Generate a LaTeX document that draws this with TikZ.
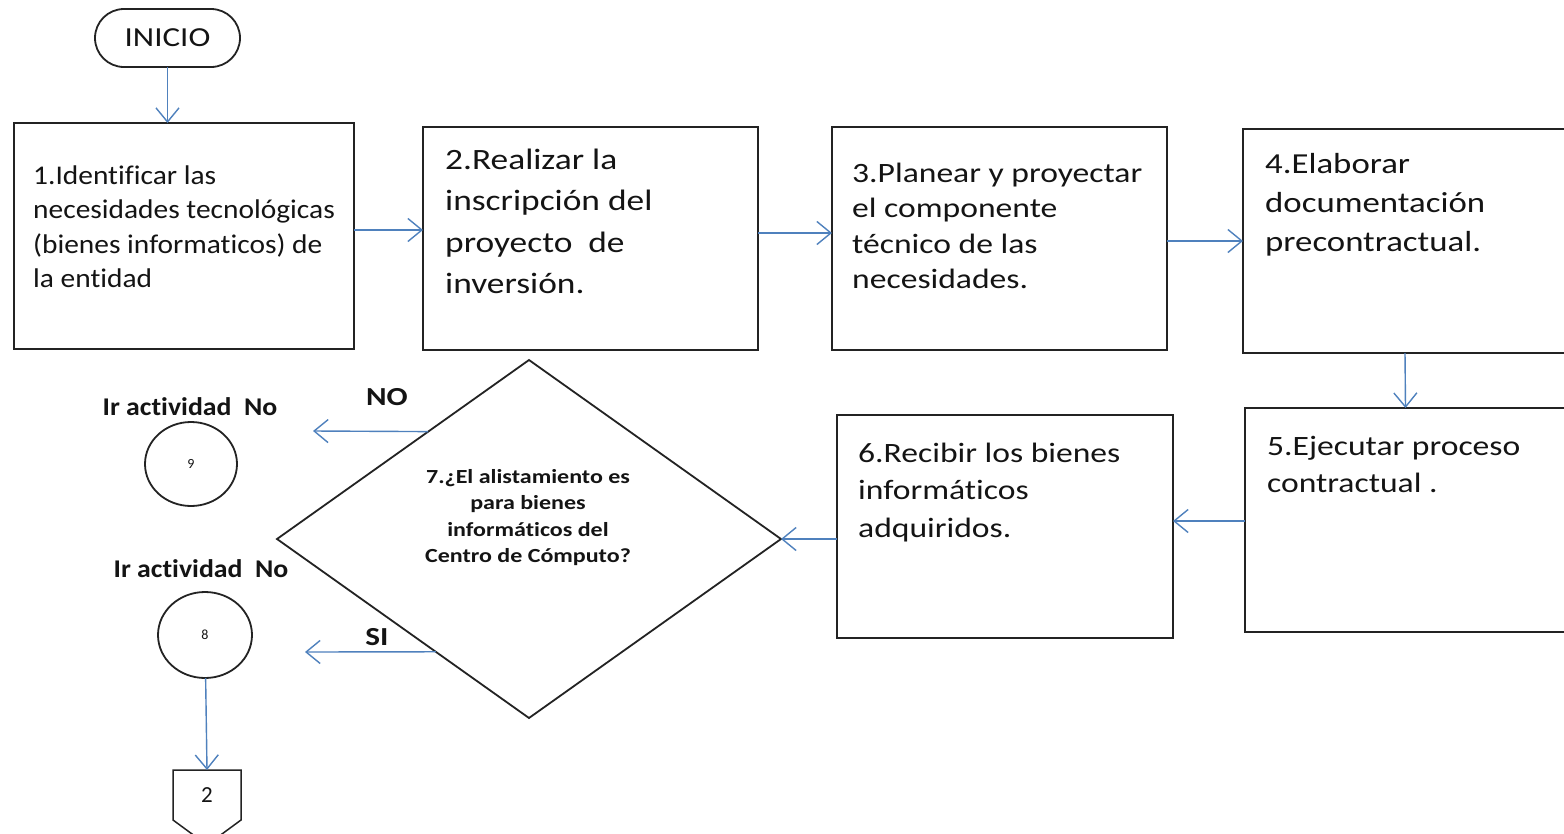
\documentclass[tikz,border=0pt]{standalone}
\usepackage{fontspec}
\setmainfont{Carlito}
\newfontfamily\calA[FakeStretch=1.09,Ligatures=NoCommon]{Carlito}
\newfontfamily\calB[FakeStretch=1.2,Ligatures=NoCommon]{Carlito}
\usetikzlibrary{arrows.meta,shapes.geometric,calc}
\definecolor{arrowblue}{RGB}{79,129,189}
\definecolor{boxline}{RGB}{35,35,35}
\definecolor{inktext}{RGB}{20,20,20}
\newcommand{\fstrut}{\rule{0pt}{1em}}
\begin{document}
\begin{tikzpicture}[x=1pt,y=-1pt,
  box/.style={draw=boxline,line width=1.8pt,inner sep=0pt,outer sep=0pt},
  flow/.style={draw=arrowblue,line width=1.4pt,-{Straight Barb[length=14pt,width=23pt]}},
  txt/.style={anchor=north west,inner sep=0pt,align=left,text=inktext},
  lbl/.style={anchor=base,inner sep=0pt,text=inktext}]
\useasboundingbox (0,0) rectangle (1564,833);
\clip (0,0) rectangle (1564,833);
\fill[white] (0,0) rectangle (1564,833);

% start
\node[box,rounded corners=29pt,minimum width=145pt,minimum height=58pt,
      font={\calB\fontsize{27.5}{33}\selectfont},text=inktext] (ini) at (167.5,38) {INICIO};

% process boxes
\node[box,minimum width=340pt,minimum height=226pt] (b1) at (184,236) {};
\node[box,minimum width=335pt,minimum height=223pt] (b2) at (590.5,238.5) {};
\node[box,minimum width=335pt,minimum height=223pt] (b3) at (999.5,238.5) {};
\node[box,minimum width=324pt,minimum height=224pt] (b4) at (1405,241) {};
\node[box,minimum width=321pt,minimum height=224pt] (b5) at (1405.5,520) {};
\node[box,minimum width=336pt,minimum height=223pt] (b6) at (1005,526.5) {};

% box texts
\node[txt,font={\calA\fontsize{27}{34.5}\selectfont}] (t1) at (33,157)
  {\fstrut 1.Identificar las\\necesidades tecnológicas\\(bienes informaticos) de\\la entidad};
\node[txt,font={\calB\fontsize{29.5}{41.5}\selectfont}] (t2) at (445,139.5)
  {\fstrut 2.Realizar la\\inscripción del\\proyecto \ de\\inversión.};
\node[txt,font={\calB\fontsize{28}{35.5}\selectfont}] (t3) at (852,154)
  {\fstrut 3.Planear y proyectar\\el componente\\técnico de las\\necesidades.};
\node[txt,font={\calB\fontsize{29}{39}\selectfont}] (t4) at (1265,144)
  {\fstrut 4.Elaborar\\documentación\\precontractual.};
\node[txt,font={\calB\fontsize{28}{37}\selectfont}] (t5) at (1267,427)
  {\fstrut 5.Ejecutar proceso\\contractual .};
\node[txt,font={\calB\fontsize{28}{37.5}\selectfont}] (t6) at (858,434)
  {\fstrut 6.Recibir los bienes\\informáticos\\adquiridos.};

% decision
\node[box,diamond,minimum width=504pt,minimum height=358pt] (q7) at (529,539) {};
\node[anchor=north,inner sep=0pt,align=center,text=inktext,
      font={\calB\bfseries\fontsize{20}{26.5}\selectfont}] (tq) at (528,463)
  {\fstrut 7.¿El alistamiento es\\para bienes\\informáticos del\\Centro de Cómputo?};

% branch labels
\node[lbl,font={\calB\bfseries\fontsize{26}{30}\selectfont}] (lno) at (387,405) {NO};
\node[lbl,font={\calB\bfseries\fontsize{26}{30}\selectfont}] (lsi) at (377,645) {SI};
\node[lbl,font={\calA\bfseries\fontsize{25.5}{30}\selectfont}] (ir9) at (190,415) {Ir actividad \ No};
\node[lbl,font={\calA\bfseries\fontsize{25.5}{30}\selectfont}] (ir8) at (201,577) {Ir actividad \ No};

% connectors (circles)
\node[box,ellipse,minimum width=92pt,minimum height=84pt,text=inktext,
      font={\fontsize{14}{16}\selectfont}] (c9) at (191,464) {9};
\node[box,ellipse,minimum width=94pt,minimum height=86pt,text=inktext,
      font={\fontsize{14}{16}\selectfont}] (c8) at (205,635) {8};

% off-page connector
\node[inner sep=0pt,outer sep=0pt,minimum width=68pt,minimum height=50pt,text=inktext,
      font={\fontsize{23}{27}\selectfont}] (off2) at (207,795) {2};
\draw[draw=boxline,line width=1.5pt,line join=miter]
  (off2.north west) -- (off2.north east) -- (off2.south east)
  -- ($(off2.south)+(0,25)$) -- (off2.south west) -- cycle;

% level coordinates for horizontal arrows
\coordinate (y12) at (0,230);
\coordinate (y23) at (0,233);
\coordinate (y34) at (0,241);
\coordinate (y56) at (0,521);
\coordinate (noend) at (313,431);
\coordinate (siend) at (305,652);

% arrows
\draw[flow] (ini) -- (ini |- b1.north);
\draw[flow] (b1.east |- y12) -- (b2.west |- y12);
\draw[flow] (b2.east |- y23) -- (b3.west |- y23);
\draw[flow] (b3.east |- y34) -- (b4.west |- y34);
\draw[flow] (b4.south) -- (b5.north);
\draw[flow] (b5.west |- y56) -- (b6.east |- y56);
\draw[flow] (b6.west |- q7.east) -- (q7.east);
\draw[flow] ($(q7.west)!0.6!(q7.north)$) -- (noend);
\draw[flow] ($(q7.west)!0.63!(q7.south)$) -- (siend);
\draw[flow] (c8) -- (off2.north);
\end{tikzpicture}
\end{document}
